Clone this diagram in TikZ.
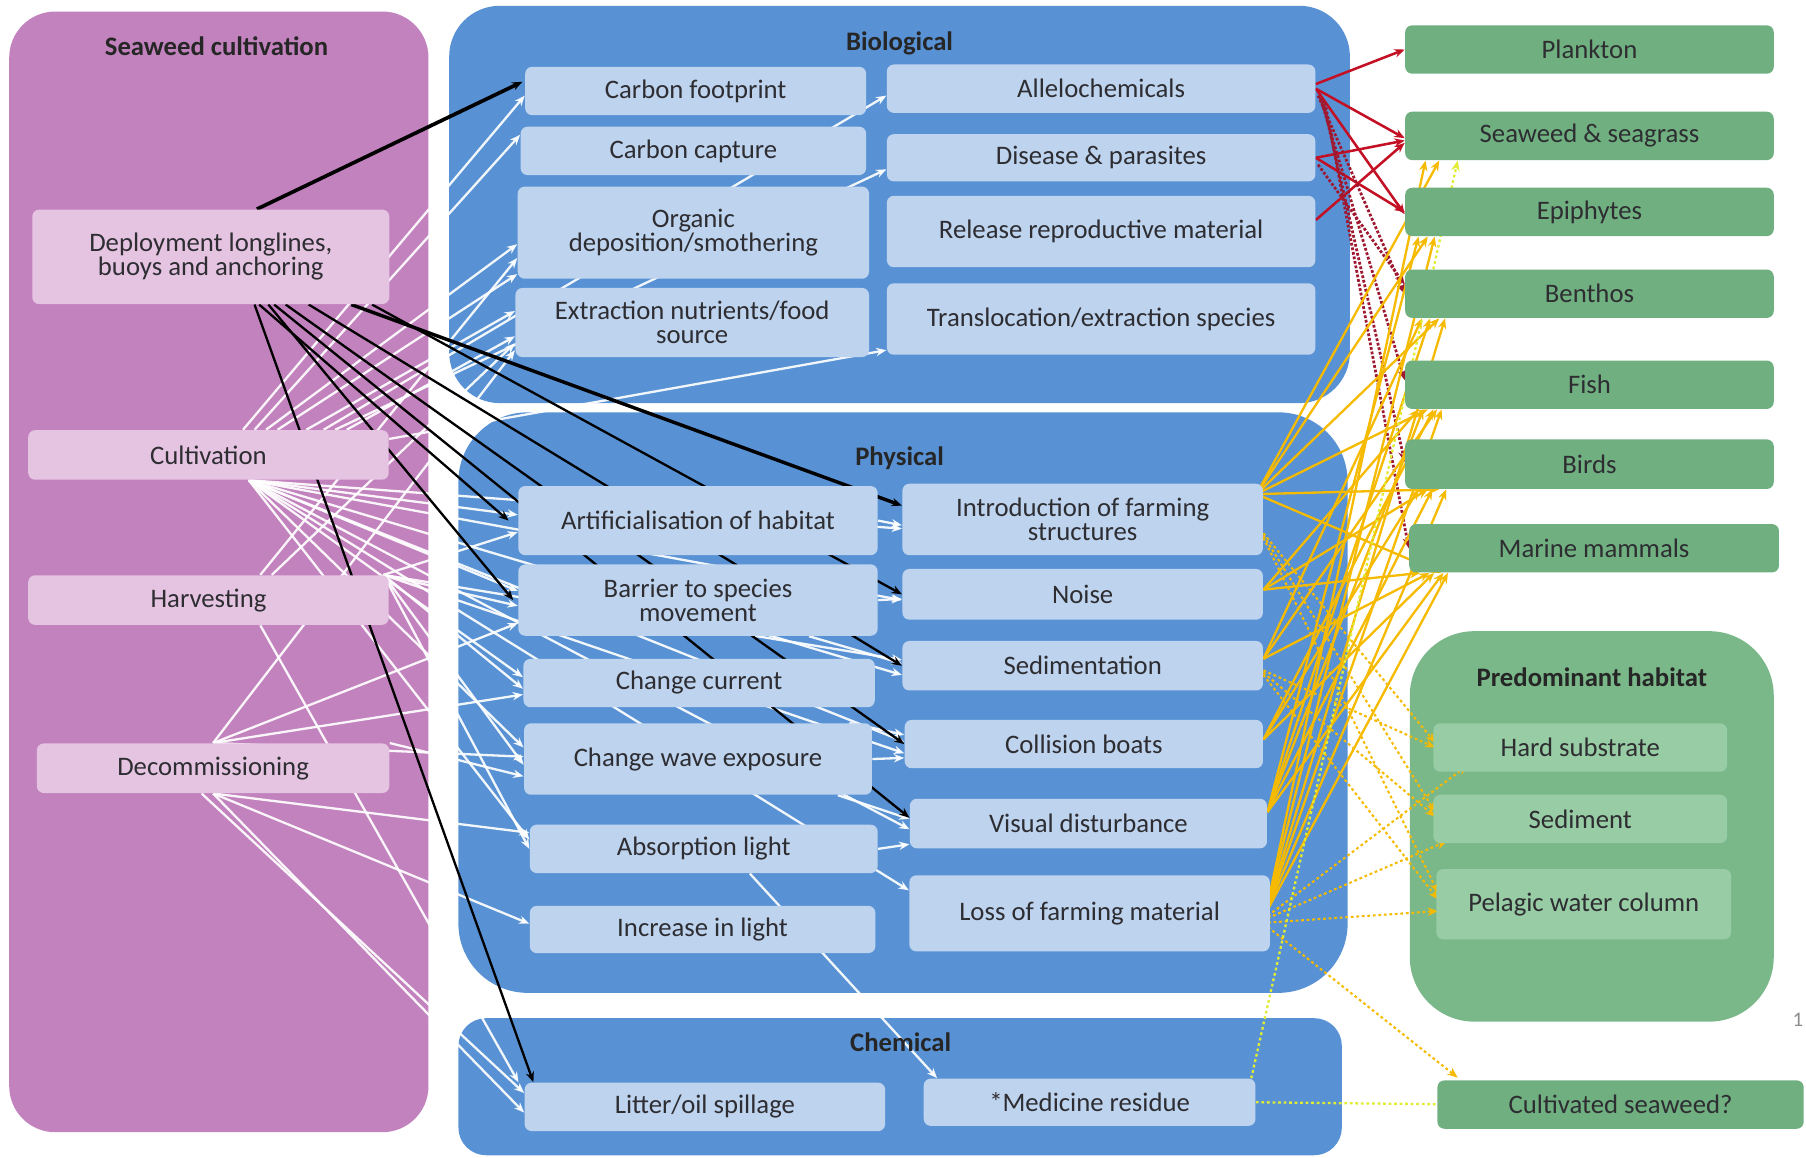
\documentclass[tikz,border=0pt]{standalone}
\usepackage{fontspec}
\setmainfont{Carlito}
\usetikzlibrary{calc,arrows.meta}
\definecolor{purpleC}{RGB}{194,130,190}
\definecolor{purpleL}{RGB}{229,196,226}
\definecolor{blueC}{RGB}{88,146,212}
\definecolor{blueL}{RGB}{190,211,238}
\definecolor{greenC}{RGB}{112,176,128}
\definecolor{greenH}{RGB}{122,184,138}
\definecolor{greenL}{RGB}{152,204,164}
\definecolor{txt}{RGB}{45,45,50}
\definecolor{redA}{RGB}{196,16,36}
\definecolor{redD}{RGB}{160,24,48}
\definecolor{yelA}{RGB}{246,186,0}
\definecolor{yelL}{RGB}{226,236,50}
\pgfdeclarelayer{bg}\pgfdeclarelayer{mid}\pgfsetlayers{bg,mid,main}
\begin{document}
\begin{tikzpicture}[x=0.5pt,y=-0.5pt,
  sz/.style 2 args={minimum width={#1*0.5pt},minimum height={#2*0.5pt}},
  ibox/.style={rounded corners=3pt, inner sep=0pt, align=center, text=txt, font=\fontsize{11.6}{10.4}\selectfont},
  pbox/.style={ibox, fill=purpleL},
  bbox/.style={ibox, fill=blueL},
  gbox/.style={ibox, fill=greenC},
  hbox/.style={ibox, fill=greenL},
  ttl/.style={font=\bfseries\fontsize{11.6}{12}\selectfont, text=black!85},
  arr/.style={-{Stealth[length=4.5pt,width=3.6pt]}},
  wht/.style={arr, white, opacity=0.92, line width=1pt},
  blk/.style={arr, black, line width=1pt},
  rda/.style={arr, redA, line width=1.1pt},
  rdd/.style={arr, redD, line width=1.2pt, dash pattern=on 1.2pt off 0.8pt},
  yla/.style={arr, yelA, line width=1pt},
  yld/.style={arr, yelA, line width=0.9pt, dash pattern=on 1.2pt off 1.2pt},
  lyd/.style={arr, yelL, line width=1pt, dash pattern=on 1.2pt off 1.2pt}]
\useasboundingbox (0,0) rectangle (1568,1005);
\begin{pgfonlayer}{bg}
\fill[white] (0,0) rectangle (1568,1005);
\fill[purpleC, rounded corners=20pt] (8,10) rectangle (372,983);
\fill[blueC, rounded corners=22pt] (390,5) rectangle (1172,350);
\fill[blueC, rounded corners=30pt] (398,358) rectangle (1170,862);
\fill[blueC, rounded corners=12pt] (398,884) rectangle (1165,1003);
\fill[greenH, rounded corners=28pt] (1224,548) rectangle (1540,887);
\end{pgfonlayer}

% titles
\node[ttl] (tcult) at (188,40) {Seaweed cultivation};
\node[ttl] (tbio) at (781,38) {Biological};
\node[ttl] (tphys) at (781,398) {Physical};
\node[ttl] (tchem) at (782,905) {Chemical};
\node[ttl] (thab) at (1382,588) {Predominant habitat};
\node[text=black!45, font=\fontsize{9}{10}\selectfont] (pnum) at (1561,885) {1};

% seaweed cultivation
\node[pbox, sz={310}{82}] (dep) at (183,223) {Deployment longlines,\\buoys and anchoring};
\node[pbox, sz={313}{43}] (cult) at (181,395) {Cultivation};
\node[pbox, sz={313}{43}] (harv) at (181,521) {Harvesting};
\node[pbox, sz={306}{43}] (decom) at (185,667) {Decommissioning};
% biological
\node[bbox, sz={296}{42}] (cf) at (604,79) {Carbon footprint};
\node[bbox, sz={300}{42}] (cc) at (602,131) {Carbon capture};
\node[bbox, sz={305}{80}] (org) at (602,202) {Organic\\deposition/smothering};
\node[bbox, sz={307}{60}] (ext) at (601,280) {Extraction nutrients/food\\source};
\node[bbox, sz={372}{42}] (alle) at (956,77) {Allelochemicals};
\node[bbox, sz={372}{41}] (dis) at (956,137) {Disease \& parasites};
\node[bbox, sz={372}{62}] (rel) at (956,201) {Release reproductive material};
\node[bbox, sz={372}{62}] (trans) at (956,277) {Translocation/extraction species};
% physical
\node[bbox, sz={312}{60}] (art) at (606,452) {Artificialisation of habitat};
\node[bbox, sz={312}{62}] (bar) at (606,521) {Barrier to species\\movement};
\node[bbox, sz={305}{42}] (cur) at (607,593) {Change current};
\node[bbox, sz={302}{62}] (wave) at (606,659) {Change wave exposure};
\node[bbox, sz={302}{42}] (abs) at (611,737) {Absorption light};
\node[bbox, sz={300}{41}] (inc) at (610,807) {Increase in light};
\node[bbox, sz={313}{62}] (intro) at (940,451) {Introduction of farming\\structures};
\node[bbox, sz={313}{44}] (noise) at (940,516) {Noise};
\node[bbox, sz={313}{43}] (sed) at (940,578) {Sedimentation};
\node[bbox, sz={311}{42}] (col) at (941,646) {Collision boats};
\node[bbox, sz={310}{43}] (vis) at (945,715) {Visual disturbance};
\node[bbox, sz={313}{66}] (loss) at (946,793) {Loss of farming material};
% chemical
\node[bbox, sz={313}{42}] (lit) at (612,961) {Litter/oil spillage};
\node[bbox, sz={288}{41}] (med) at (946,957) {*Medicine residue};
% receptors
\node[gbox, sz={320}{42}] (plank) at (1380,43) {Plankton};
\node[gbox, sz={320}{42}] (seaw) at (1380,118) {Seaweed \& seagrass};
\node[gbox, sz={320}{42}] (epi) at (1380,184) {Epiphytes};
\node[gbox, sz={320}{42}] (ben) at (1380,255) {Benthos};
\node[gbox, sz={320}{42}] (fish) at (1380,334) {Fish};
\node[gbox, sz={320}{43}] (birds) at (1380,403) {Birds};
\node[gbox, sz={321}{42}] (mam) at (1384,476) {Marine mammals};
\node[hbox, sz={255}{42}] (hard) at (1372,649) {Hard substrate};
\node[hbox, sz={255}{42}] (sedim) at (1372,711) {Sediment};
\node[hbox, sz={256}{61}] (pel) at (1375,785) {Pelagic water column};
\node[gbox, sz={318}{42}] (cultsw) at (1407,959) {Cultivated seaweed?};

\begin{pgfonlayer}{mid}
% ---- white: cultivation up to biological
\draw[wht] ($(cult.north)+(30,0)$) -- ($(cf.west)+(0,4)$);
\draw[wht] ($(cult.north)+(40,0)$) -- ($(cc.west)+(0,-14)$);
\draw[wht] ($(cult.north)+(50,0)$) -- ($(org.west)+(0,10)$);
\draw[wht] ($(cult.north)+(60,0)$) -- ($(org.west)+(0,36)$);
\draw[wht] ($(cult.north)+(85,0)$) -- ($(ext.west)+(0,-10)$);
\draw[wht] ($(cult.north)+(120,0)$) -- ($(ext.west)+(0,12)$);
\draw[wht] ($(cult.north)+(100,0)$) -- ($(alle.west)+(0,6)$);
\draw[wht] ($(cult.north)+(110,0)$) -- ($(dis.west)+(0,10)$);
\draw[wht] ($(cult.north east)+(0,8)$) -- ($(trans.west)+(0,27)$);
% ---- white: cultivation down to physical
\foreach \t/\o in {art/-5,bar/-8,cur/-5,wave/-10,abs/-8,intro/8,noise/5,sed/8,col/-2,vis/5,loss/-20}
  \draw[wht] ($(cult.south)+(35,0)$) -- ($(\t.west)+(0,\o)$);
% ---- white: harvesting
\draw[wht] ($(harv.north)+(45,0)$) -- ($(org.west)+(0,22)$);
\draw[wht] ($(harv.north)+(55,0)$) -- ($(ext.west)+(0,18)$);
\foreach \t/\o in {art/10,bar/5,cur/5,wave/5,abs/0,sed/-5,col/8}
  \draw[wht] ($(harv.north east)+(-5,0)$) -- ($(\t.west)+(0,\o)$);
\draw[wht] ($(harv.south)+(45,0)$) -- ($(lit.north west)+(-5,0)$);
% ---- white: decommissioning
\draw[wht] (decom.north) -- ($(ext.west)+(0,24)$);
\draw[wht] (decom.north) -- ($(bar.west)+(0,20)$);
\draw[wht] (decom.north) -- ($(cur.west)+(0,10)$);
\draw[wht] (decom.north) -- ($(wave.west)+(0,-2)$);
\draw[wht] (decom.north east) -- ($(wave.west)+(0,15)$);
\draw[wht] (decom.south) -- ($(abs.west)+(0,-14)$);
\draw[wht] (decom.south) -- ($(inc.west)+(0,-5)$);
\draw[wht] (decom.south) -- ($(lit.west)+(0,5)$);
\draw[wht] ($(decom.south)+(-10,0)$) -- ($(lit.west)+(0,-12)$);
% ---- white: between physical columns
\draw[wht] (art.east) -- ($(intro.west)+(0,5)$);
\draw[wht] (bar.east) -- ($(noise.west)+(0,4)$);
\draw[wht] ($(bar.south east)+(-60,0)$) -- ($(sed.west)+(0,-2)$);
\draw[wht] ($(wave.north east)+(-20,0)$) -- ($(col.west)+(0,-8)$);
\draw[wht] (wave.east) -- ($(col.west)+(0,12)$);
\draw[wht] ($(wave.south east)+(-30,0)$) -- ($(vis.west)+(0,-4)$);
\draw[wht] (abs.east) -- ($(vis.west)+(0,18)$);
\draw[wht] ($(abs.south)+(40,0)$) -- ($(med.north west)+(12,0)$);
% ---- black: deployment
\draw[blk, line width=1.6pt] ($(dep.north)+(40,0)$) -- ($(cf.west)+(-2,-8)$);
\draw[blk] ($(dep.south)+(42,0)$) -- ($(art.west)+(-8,0)$);
\draw[blk] ($(dep.south)+(50,0)$) -- ($(bar.west)+(-4,0)$);
\draw[blk] ($(dep.south)+(38,0)$) -- ($(lit.north west)+(8,0)$);
\draw[blk, line width=1.5pt] ($(dep.south)+(122,0)$) -- ($(intro.west)+(0,-12)$);
\draw[blk] ($(dep.south)+(140,0)$) -- (noise.west);
\draw[blk] ($(dep.south)+(85,0)$) -- (sed.west);
\draw[blk] ($(dep.south)+(65,0)$) -- (col.west);
\draw[blk] ($(dep.south)+(55,0)$) -- ($(vis.west)+(0,-5)$);
% ---- red
\draw[rda] ($(alle.east)+(0,-4)$) -- (plank.west);
\draw[rda] (alle.east) -- ($(seaw.west)+(0,2)$);
\draw[rda] (alle.east) -- ($(epi.west)+(0,2)$);
\draw[rda] (dis.east) -- ($(seaw.west)+(0,4)$);
\draw[rda] (dis.east) -- ($(epi.west)+(0,0)$);
\draw[rda] ($(rel.east)+(0,-10)$) -- ($(seaw.west)+(0,6)$);
\draw[rdd] ($(alle.east)+(2,6)$) -- ($(ben.west)+(0,0)$);
\draw[rdd] ($(alle.east)+(4,8)$) -- ($(fish.west)+(0,-4)$);
\draw[rdd] ($(alle.east)+(6,10)$) -- ($(birds.west)+(0,-2)$);
\draw[rdd] ($(alle.east)+(8,12)$) -- ($(mam.west)+(0,0)$);
\draw[rdd] ($(dis.east)+(2,6)$) -- ($(ben.west)+(0,-8)$);
% ---- yellow solid
\foreach \t/\o in {seaw/30,epi/20,ben/30,fish/20,birds/30,mam/28}
  \draw[yla] ($(intro.east)+(-6,-22)$) -- ($(\t.south west)+(\o,0)$);
\foreach \t/\o in {fish/12,birds/20,mam/10}
  \draw[yla] ($(noise.east)+(0,-4)$) -- ($(\t.south west)+(\o,0)$);
\foreach \t/\o in {ben/15,fish/28,mam/18}
  \draw[yla] ($(sed.east)+(0,-6)$) -- ($(\t.south west)+(\o,0)$);
\foreach \t/\o in {fish/25,birds/12,mam/22}
  \draw[yla] ($(col.east)+(0,-4)$) -- ($(\t.south west)+(\o,0)$);
\foreach \t/\o in {epi/12,ben/22,fish/16,birds/24,mam/30}
  \draw[yla] ($(vis.east)+(0,-10)$) -- ($(\t.south west)+(\o,0)$);
\foreach \t/\o in {seaw/18,epi/26,ben/35,fish/32,birds/36,mam/34}
  \draw[yla] ($(loss.east)+(-4,0)$) -- ($(\t.south west)+(\o,0)$);
% ---- yellow dotted to habitats
\draw[yld] ($(intro.east)+(0,12)$) -- ($(hard.west)+(2,-4)$);
\draw[yld] ($(intro.east)+(0,14)$) -- ($(sedim.west)+(2,-6)$);
\draw[yld] ($(intro.east)+(0,16)$) -- ($(pel.west)+(2,-10)$);
\draw[yld] ($(sed.east)+(0,4)$) -- ($(hard.west)+(2,0)$);
\draw[yld] ($(sed.east)+(0,6)$) -- ($(sedim.west)+(2,-2)$);
\draw[yld] ($(sed.east)+(0,8)$) -- ($(pel.west)+(2,-4)$);
\draw[yld] ($(loss.east)+(-2,2)$) -- ($(hard.south west)+(30,-6)$);
\draw[yld] ($(loss.east)+(-2,4)$) -- ($(sedim.south west)+(12,-2)$);
\draw[yld] ($(loss.east)+(-2,8)$) -- ($(pel.west)+(2,6)$);
\draw[yld] ($(loss.east)+(-2,12)$) -- ($(cultsw.north west)+(18,-2)$);
% ---- light yellow dotted (medicine residue)
\draw[lyd] (med.east) -- ($(cultsw.west)+(28,0)$);
\draw[lyd] ($(med.north east)+(-4,0)$) -- ($(seaw.south west)+(46,0)$);
\end{pgfonlayer}
\end{tikzpicture}
\end{document}
